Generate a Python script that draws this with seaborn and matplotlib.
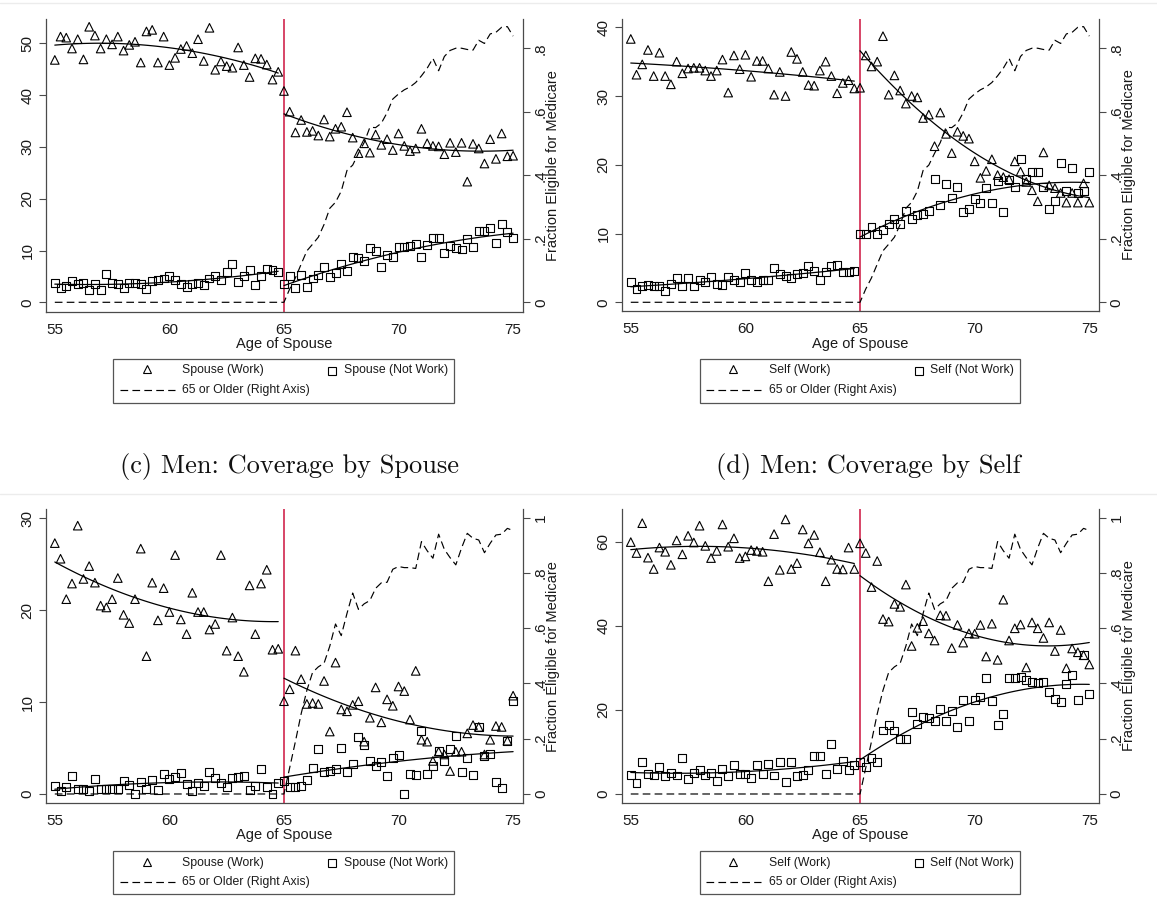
import numpy as np
import pandas as pd
import matplotlib
matplotlib.use("Agg")
import matplotlib.pyplot as plt
import seaborn as sns
from matplotlib.lines import Line2D
from matplotlib.patches import Rectangle

# ---------------- data ----------------
ages = np.arange(55.0, 75.001, 0.25)  # quarterly ages 55 .. 75 (81 points)

a_work = [46.8, 51.3, 51.1, 49.0, 50.8, 46.9, 53.2, 51.5, 49.0, 50.8,
          49.8, 51.3, 48.6, 49.7, 50.3, 46.3, 52.3, 52.6, 46.3, 51.3,
          45.8, 47.2, 48.9, 49.5, 48.1, 50.8, 46.6, 53.0, 44.9, 46.5,
          45.6, 45.3, 49.2, 45.8, 43.5, 47.1, 47.0, 45.9, 43.0, 44.5,
          40.8, 36.8, 32.8, 35.2, 32.9, 33.1, 32.2, 35.3, 32.0, 33.5,
          33.9, 36.7, 31.8, 28.8, 30.7, 28.9, 32.4, 30.4, 31.5, 29.4,
          32.6, 30.2, 29.2, 29.7, 33.5, 30.7, 30.2, 30.1, 28.6, 30.8,
          29.0, 30.8, 23.3, 30.6, 29.7, 26.8, 31.5, 27.7, 32.6, 28.2, 28.3]
a_notwork = [3.8, 2.8, 3.2, 4.2, 3.6, 3.8, 2.4, 3.5, 2.3, 5.4,
             3.8, 3.5, 2.8, 3.7, 3.7, 3.5, 2.5, 4.2, 4.4, 4.6,
             5.0, 4.3, 3.5, 3.0, 3.5, 3.7, 3.3, 4.6, 5.1, 4.3,
             5.9, 7.4, 3.9, 5.0, 6.3, 3.4, 5.0, 6.4, 6.2, 5.9,
             3.5, 5.0, 2.8, 5.3, 2.9, 4.6, 5.3, 6.8, 4.8, 5.6,
             7.4, 6.0, 8.8, 8.5, 7.9, 10.4, 10.0, 6.9, 9.1, 8.8,
             10.6, 10.6, 10.9, 11.2, 8.7, 11.0, 12.5, 12.5, 9.6, 10.8,
             10.4, 10.2, 12.2, 10.7, 13.8, 13.8, 14.4, 11.5, 15.1, 13.5, 12.5]

b_work = [38.3, 33.1, 34.6, 36.7, 32.9, 36.3, 32.9, 31.7, 35.0, 33.3,
          34.0, 34.1, 34.1, 33.7, 32.9, 33.7, 35.3, 30.5, 35.9, 33.9,
          36.0, 32.8, 35.1, 35.1, 34.0, 30.2, 33.5, 30.0, 36.4, 35.4,
          33.5, 31.6, 31.5, 33.7, 35.0, 32.9, 30.4, 31.9, 32.3, 31.1,
          31.2, 35.9, 34.3, 35.0, 38.7, 30.2, 33.0, 30.8, 28.9, 30.0,
          29.8, 26.8, 27.3, 22.7, 27.6, 24.5, 21.7, 24.8, 24.2, 23.8,
          20.5, 18.1, 19.1, 20.8, 18.5, 18.2, 17.9, 20.5, 19.0, 17.5,
          16.3, 14.7, 21.8, 17.0, 16.6, 15.9, 14.5, 15.9, 14.5, 17.3, 14.5]
b_notwork = [2.9, 1.9, 2.4, 2.5, 2.4, 2.4, 1.7, 2.6, 3.5, 2.4,
             3.5, 2.3, 3.2, 2.9, 3.7, 2.7, 2.5, 3.7, 3.2, 2.9,
             4.2, 3.3, 2.9, 3.2, 3.3, 5.0, 4.1, 3.8, 3.6, 4.1,
             4.2, 5.3, 4.6, 3.3, 4.4, 5.3, 5.4, 4.4, 4.4, 4.6,
             9.9, 9.9, 10.9, 9.9, 10.5, 11.4, 12.1, 11.4, 13.3, 12.1,
             12.7, 12.9, 13.3, 17.9, 14.2, 17.2, 15.2, 16.7, 13.1, 13.5,
             15.0, 14.5, 16.6, 14.5, 17.6, 13.2, 17.8, 16.7, 20.9, 18.0,
             18.9, 19.0, 16.8, 13.6, 14.8, 20.3, 16.2, 19.6, 15.9, 16.2, 18.9]

c_work = [27.3, 25.6, 21.2, 22.9, 29.2, 23.4, 24.8, 23.0, 20.5, 20.3,
          21.2, 23.5, 19.5, 18.6, 21.2, 26.7, 15.0, 23.0, 18.9, 22.4,
          19.8, 26.0, 19.0, 17.4, 21.9, 19.8, 19.8, 17.9, 18.5, 26.0,
          15.6, 19.2, 15.0, 13.3, 22.7, 17.4, 22.9, 24.4, 15.7, 15.8,
          10.1, 11.4, 15.6, 12.5, 9.8, 9.9, 9.8, 12.3, 6.8, 14.3,
          9.2, 9.0, 9.7, 10.1, 5.7, 8.3, 11.6, 7.8, 10.3, 9.6,
          11.7, 11.2, 8.1, 13.4, 5.9, 5.7, 3.6, 4.6, 4.3, 2.5,
          4.6, 4.6, 6.6, 7.5, 7.3, 4.3, 5.9, 7.4, 7.3, 5.8, 10.7]
c_notwork = [0.9, 0.3, 0.8, 2.0, 0.5, 0.5, 0.3, 1.6, 0.5, 0.5,
             0.5, 0.5, 1.4, 1.0, 0.0, 1.3, 0.5, 1.5, 0.4, 2.2,
             1.6, 1.9, 2.3, 1.1, 0.3, 1.2, 0.9, 2.4, 1.7, 1.2,
             0.8, 1.7, 1.9, 2.0, 0.4, 0.9, 2.7, 0.8, 0.0, 1.2,
             1.4, 0.8, 0.8, 0.9, 1.5, 2.8, 4.9, 2.4, 2.5, 2.7,
             5.0, 2.4, 3.3, 6.2, 5.3, 3.6, 3.1, 3.5, 2.0, 3.9,
             4.2, 0.0, 2.2, 2.1, 6.9, 2.2, 3.0, 4.7, 3.6, 4.9,
             6.3, 2.4, 3.9, 2.1, 7.3, 4.1, 4.4, 1.3, 0.7, 5.8, 10.1]

d_work = [59.9, 57.3, 64.4, 56.2, 53.5, 58.6, 57.6, 54.5, 60.3, 57.0,
          61.4, 59.8, 63.8, 59.0, 56.1, 57.8, 64.1, 58.8, 60.8, 56.1,
          56.5, 58.0, 57.8, 57.6, 50.6, 61.8, 53.3, 65.3, 53.5, 54.9,
          62.9, 59.6, 61.6, 57.5, 50.6, 55.7, 53.5, 53.4, 58.6, 53.5,
          59.6, 57.3, 49.2, 55.4, 41.6, 41.0, 45.2, 44.5, 49.8, 35.2,
          39.5, 41.1, 38.2, 36.5, 42.5, 42.4, 34.7, 40.2, 36.0, 38.2,
          38.1, 40.2, 32.7, 40.5, 31.9, 46.2, 36.5, 39.4, 40.3, 30.1,
          40.8, 39.4, 37.1, 40.8, 34.0, 39.0, 29.9, 34.6, 33.7, 33.0, 30.8]
d_notwork = [4.6, 2.7, 7.6, 4.7, 4.4, 6.4, 4.3, 5.0, 4.4, 8.6,
             3.5, 5.0, 5.8, 4.4, 5.0, 3.1, 6.0, 4.2, 7.0, 4.8,
             4.8, 3.8, 7.0, 4.8, 7.2, 4.4, 7.6, 2.8, 7.7, 4.2,
             4.6, 5.8, 9.1, 9.0, 4.8, 11.9, 6.0, 7.8, 5.8, 7.0,
             7.7, 6.5, 8.5, 7.6, 15.1, 16.3, 15.1, 13.1, 13.0, 19.6,
             16.6, 18.4, 18.0, 17.4, 20.2, 17.4, 19.8, 16.0, 22.3, 17.4,
             22.3, 23.0, 27.5, 22.2, 16.4, 19.1, 27.5, 27.5, 27.8, 27.2,
             26.7, 26.4, 26.7, 24.2, 22.5, 21.9, 26.1, 28.4, 22.3, 33.0, 23.8]

elig_before65 = [0.0, 0.0, 0.0, 0.0, 0.0, 0.0, 0.0, 0.0, 0.0, 0.0,
                 0.0, 0.0, 0.0, 0.0, 0.0, 0.0, 0.0, 0.0, 0.0, 0.0,
                 0.0, 0.0, 0.0, 0.0, 0.0, 0.0, 0.0, 0.0, 0.0, 0.0,
                 0.0, 0.0, 0.0, 0.0, 0.0, 0.0, 0.0, 0.0, 0.0, 0.0]
elig_women_65on = [0.0, 0.042, 0.077, 0.12, 0.162, 0.183, 0.205, 0.245, 0.296, 0.315,
                   0.35, 0.415, 0.432, 0.469, 0.503, 0.551, 0.55, 0.564, 0.597, 0.64,
                   0.656, 0.669, 0.678, 0.692, 0.713, 0.737, 0.768, 0.729, 0.774, 0.793,
                   0.80, 0.80, 0.796, 0.794, 0.825, 0.815, 0.845, 0.85, 0.866, 0.868, 0.838]
elig_men_65on = [0.0, 0.095, 0.19, 0.29, 0.375, 0.44, 0.46, 0.473, 0.535, 0.615,
                 0.573, 0.653, 0.727, 0.668, 0.688, 0.70, 0.744, 0.764, 0.766, 0.813,
                 0.823, 0.819, 0.819, 0.816, 0.913, 0.88, 0.853, 0.94, 0.885, 0.855,
                 0.829, 0.89, 0.943, 0.925, 0.919, 0.873, 0.907, 0.937, 0.94, 0.961, 0.953]
elig_women = elig_before65 + elig_women_65on
elig_men = elig_before65 + elig_men_65on

x_ticks = [55, 60, 65, 70, 75]
a_yticks = [0, 10, 20, 30, 40, 50]
b_yticks = [0, 10, 20, 30, 40]
c_yticks = [0, 10, 20, 30]
d_yticks = [0, 20, 40, 60]
r_ticks_women = [0, 0.2, 0.4, 0.6, 0.8]
r_labels_women = ["0", ".2", ".4", ".6", ".8"]
r_ticks_men = [0, 0.2, 0.4, 0.6, 0.8, 1.0]
r_labels_men = ["0", ".2", ".4", ".6", ".8", "1"]

spouse_labels = ["Spouse (Work)", "Spouse (Not Work)", "65 or Older (Right Axis)"]
self_labels = ["Self (Work)", "Self (Not Work)", "65 or Older (Right Axis)"]
x_label = "Age of Spouse"
r_label = "Fraction Eligible for Medicare"
title_c = "(c) Men: Coverage by Spouse"
title_d = "(d) Men: Coverage by Self"

# ---------------- style ----------------
sns.set_style("white")
plt.rcParams["font.family"] = ["Liberation Sans", "DejaVu Sans"]
plt.rcParams["ytick.alignment"] = "center"

W, H = 1157, 909
fig = plt.figure(figsize=(W / 100, H / 100), dpi=100)
fig.patch.set_facecolor("white")

AXC = "#4a4a4a"
RED = "#d4375c"
DASH = (0, (6.5, 3.6))
TICK_FS = 11


def fxp(x):
    return x / W


def fyp(y):
    return 1 - y / H


def draw_panel(box, work, notwork, elig, xlim, ylim, yticks, y2lim, r_ticks,
               r_labels, xlab_center_y):
    x0, y0, x1, y1 = box
    ax = fig.add_axes([fxp(x0), fyp(y1), (x1 - x0) / W, (y1 - y0) / H])
    df = pd.DataFrame({"age": ages, "work": work, "notwork": notwork,
                       "elig": elig})
    ax.axvline(65, color=RED, lw=1.3, zorder=1)
    sns.scatterplot(data=df, x="age", y="work", marker="^", s=38,
                    facecolor="none", edgecolor="black", linewidth=0.8,
                    ax=ax, zorder=3)
    sns.scatterplot(data=df, x="age", y="notwork", marker="s", s=33,
                    facecolor="none", edgecolor="black", linewidth=0.8,
                    ax=ax, zorder=3)
    for col in ["work", "notwork"]:
        for part in [df[df["age"] < 65], df[df["age"] >= 65]]:
            sns.regplot(data=part, x="age", y=col, order=2, ci=None,
                        scatter=False, color="black", truncate=True,
                        line_kws=dict(linewidth=0.9, zorder=4), ax=ax)
    ax.set_xlim(*xlim)
    ax.set_ylim(*ylim)
    ax.set_xticks(x_ticks)
    ax.set_yticks(yticks)
    ax.set_xticklabels([str(t) for t in x_ticks])
    ax.set_yticklabels([str(t) for t in yticks])
    ax.set_ylabel("")
    ax.set_xlabel(x_label, fontsize=10.5, color="#1a1a1a")
    ax.xaxis.set_label_coords(0.5, -(xlab_center_y - y1) / (y1 - y0))
    ax.xaxis.label.set_va("center")
    for s in ["top", "right"]:
        ax.spines[s].set_visible(False)
    for s in ["left", "bottom"]:
        ax.spines[s].set_color(AXC)
        ax.spines[s].set_linewidth(0.9)
    ax.tick_params(axis="both", direction="out", length=5, width=0.8,
                   color=AXC, labelsize=TICK_FS, pad=3, labelcolor="#1a1a1a")
    ax.tick_params(axis="y", labelrotation=90)
    ax.tick_params(axis="x", pad=3)

    ax2 = ax.twinx()
    sns.lineplot(data=df, x="age", y="elig", ax=ax2, color="black",
                 linewidth=0.85, linestyle=DASH)
    ax2.set_ylim(*y2lim)
    ax2.set_yticks(r_ticks)
    ax2.set_yticklabels(r_labels)
    ax2.set_xlim(*xlim)
    for s in ["top", "left", "bottom"]:
        ax2.spines[s].set_visible(False)
    ax2.spines["right"].set_color(AXC)
    ax2.spines["right"].set_linewidth(0.9)
    ax2.tick_params(axis="y", direction="out", length=5, width=0.8,
                    color=AXC, labelsize=TICK_FS, pad=3, labelrotation=90,
                    labelcolor="#1a1a1a")
    ax2.set_ylabel(r_label, fontsize=10.5, color="#1a1a1a")
    ax2.yaxis.set_label_coords(1 + 30.5 / (x1 - x0), 0.5)
    ax2.yaxis.label.set_va("center")
    ax2.yaxis.label.set_ha("center")
    return ax, ax2


def draw_legend(box, rows, tri_x, txt1_x, sq_x, txt2_x, dash_x, labels):
    bx0, by0, bx1, by1 = box
    fig.add_artist(Rectangle((fxp(bx0), fyp(by1)), (bx1 - bx0) / W,
                             (by1 - by0) / H, transform=fig.transFigure,
                             facecolor="white", edgecolor="#555555",
                             linewidth=0.9))
    r1, r2 = rows
    fig.add_artist(Line2D([fxp(tri_x)], [fyp(r1 - 1.5)], marker="^",
                          markersize=6.0, mfc="none", mec="black", mew=0.8,
                          linestyle="none", transform=fig.transFigure))
    fig.add_artist(Line2D([fxp(sq_x)], [fyp(r1)], marker="s",
                          markersize=5.6, mfc="none", mec="black", mew=0.8,
                          linestyle="none", transform=fig.transFigure))
    fig.add_artist(Line2D([fxp(dash_x[0]), fxp(dash_x[1])], [fyp(r2)] * 2,
                          color="black", linewidth=0.85, linestyle=DASH,
                          transform=fig.transFigure))
    kw = dict(fontsize=8.8, va="center", ha="left", color="#1a1a1a")
    fig.text(fxp(txt1_x), fyp(r1), labels[0], **kw)
    fig.text(fxp(txt2_x), fyp(r1), labels[1], **kw)
    fig.text(fxp(txt1_x), fyp(r2), labels[2], **kw)


# panel (a)
draw_panel((45.5, 19, 522.8, 311.7), a_work, a_notwork, elig_women,
           (54.594, 75.423), (-1.81, 54.7), a_yticks, (-0.0296, 0.892),
           r_ticks_women, r_labels_women, 343.5)
# panel (b)
draw_panel((621.6, 19, 1098.7, 310.7), b_work, b_notwork, elig_women,
           (54.6, 75.41), (-1.22, 41.2), b_yticks, (-0.0265, 0.892),
           r_ticks_women, r_labels_women, 343.5)
# panel (c)
draw_panel((45.5, 509.3, 522.8, 803.3), c_work, c_notwork, elig_men,
           (54.594, 75.423), (-1.01, 30.98), c_yticks, (-0.0337, 1.030),
           r_ticks_men, r_labels_men, 835.5)
# panel (d)
draw_panel((621.6, 509.3, 1098.7, 802.7), d_work, d_notwork, elig_men,
           (54.6, 75.41), (-2.07, 67.7), d_yticks, (-0.0315, 1.030),
           r_ticks_men, r_labels_men, 835.5)

draw_legend((113.2, 359, 454.3, 402.7), (370.5, 390), 147, 182.4, 332, 344,
            (119.5, 174.6), spouse_labels)
draw_legend((699.9, 359, 1020.4, 402.7), (370.5, 390), 733.1, 768.9, 918.5,
            929.9, (706.1, 761.5), self_labels)
draw_legend((113.2, 850.7, 454.3, 894.3), (863.3, 882), 147, 182.4, 332,
            344, (119.5, 174.6), spouse_labels)
draw_legend((699.9, 850.7, 1020.4, 894.3), (863.3, 882), 733.1, 768.9,
            918.5, 929.9, (706.1, 761.5), self_labels)

# titles of bottom row
fig.text(fxp(290), fyp(466.7), title_c, family="cmr10", fontsize=19,
         ha="center", va="center", color="#111111")
fig.text(fxp(868), fyp(466.7), title_d, family="cmr10", fontsize=19,
         ha="center", va="center", color="#111111")

# faint separators
for yy in (3, 494):
    fig.add_artist(Line2D([0, 1], [fyp(yy)] * 2, color="#ececec",
                          linewidth=1.0, transform=fig.transFigure))

fig.savefig("out.png", dpi=100, facecolor="white")
